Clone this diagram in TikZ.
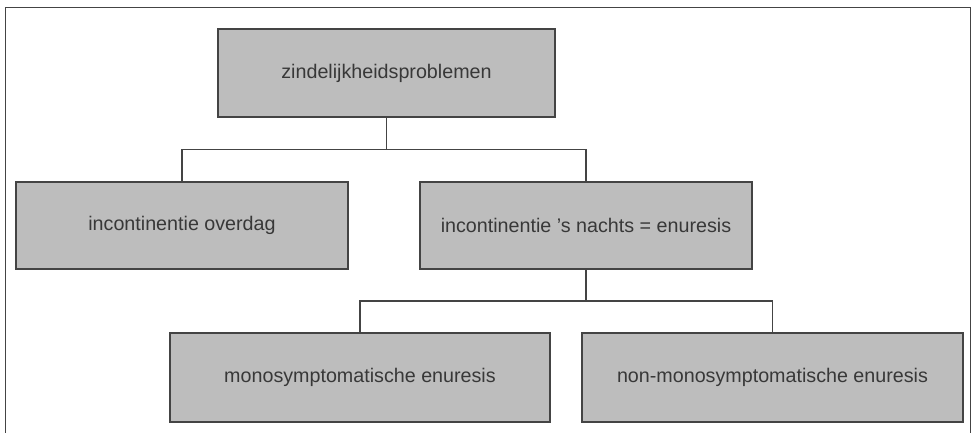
\documentclass[tikz,border=0pt]{standalone}
\usepackage{fontspec}
\setmainfont{Liberation Sans}
\usetikzlibrary{calc}
\definecolor{boxfill}{HTML}{BDBDBD}
\definecolor{boxline}{HTML}{444444}
\definecolor{txt}{HTML}{383838}
\tikzset{
  box/.style={draw=boxline, line width=1.3pt, fill=boxfill, inner sep=0pt,
    text=txt, font=\fontsize{19.7}{23}\selectfont},
  conn/.style={draw=boxline, line width=1.1pt},
  frame/.style={draw=boxline, line width=1pt}
}
\begin{document}
\begin{tikzpicture}[x=1pt,y=-1pt]
\useasboundingbox (0,0) rectangle (972,433);
\draw[frame] (5,433) -- (5,8) -- (970,8) -- (970,433);
\node[box, minimum width=337pt, minimum height=88pt] (top) at (386.5,73) {zindelijkheidsproblemen};
\node[box, minimum width=332pt, minimum height=87pt] (left) at (182,225.5) {incontinentie overdag};
\node[box, minimum width=332pt, minimum height=87pt] (mid) at (586,225.5) {incontinentie 's nachts = enuresis};
\node[box, minimum width=380pt, minimum height=89pt] (bl) at (360,377.5) {monosymptomatische enuresis};
\node[box, minimum width=381pt, minimum height=89pt] (br) at (772.5,377.5) {non-monosymptomatische enuresis};
\coordinate (j1) at ($(top.south)!0.5!(top.south |- left.north)$);
\coordinate (j2) at ($(mid.south)!0.5!(mid.south |- bl.north)$);
\draw[conn] (top.south) -- (j1);
\draw[conn] (left.north) |- (j1) -| (mid.north);
\draw[conn] (mid.south) -- (j2);
\draw[conn] (bl.north) |- (j2) -| (br.north);
\end{tikzpicture}
\end{document}
